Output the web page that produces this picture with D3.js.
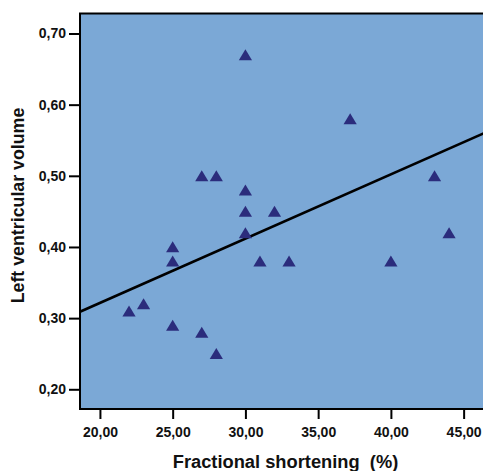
<!DOCTYPE html>
<html>
<head>
<meta charset="utf-8">
<script src="https://cdn.jsdelivr.net/npm/d3@7"></script>
<style>
  body { margin: 0; background: #fff; }
  text { font-family: "Liberation Sans", Arial, sans-serif; }
</style>
</head>
<body>
<script>
// fractional shortening (%) vs left ventricular volume
var shortening = [30, 37.2, 27, 28, 43, 30, 30, 32, 30, 44, 25, 25, 31, 33, 40, 22, 23, 25, 27, 28];
var volume     = [0.67, 0.58, 0.50, 0.50, 0.50, 0.48, 0.45, 0.45, 0.42, 0.42, 0.40, 0.38, 0.38, 0.38, 0.38, 0.31, 0.32, 0.29, 0.28, 0.25];
// fit line as read at the plot edges
var fitX = [18.63, 46.4];
var fitY = [0.309, 0.560];
var xTicks = [20, 25, 30, 35, 40, 45];
var yTicks = [0.20, 0.30, 0.40, 0.50, 0.60, 0.70];

var width = 483;
var height = 471;
var pLeft = 80, pTop = 13.5, pRight = 484, pBottom = 409;

var svg = d3.select("body").append("svg").attr("width", width).attr("height", height);

var xScale = d3.scaleLinear()
  .domain([18.63, 46.4])
  .range([pLeft, pRight]);

var yScale = d3.scaleLinear()
  .domain([0.1723, 0.7281])
  .range([pBottom, pTop]);

var loc = d3.formatLocale({decimal: ",", thousands: ".", grouping: [3], currency: ["", ""]});
var fmt = loc.format(".2f");

svg.append("defs").append("clipPath").attr("id", "clip")
  .append("rect")
  .attr("x", pLeft).attr("y", pTop)
  .attr("width", pRight - pLeft).attr("height", pBottom - pTop);

svg.append("rect")
  .attr("x", pLeft).attr("y", pTop)
  .attr("width", pRight - pLeft + 10).attr("height", pBottom - pTop)
  .attr("fill", "#7BA8D6")
  .attr("stroke", "#000")
  .attr("stroke-width", 2);

var axisx = d3.axisBottom(xScale).tickValues(xTicks).tickFormat(fmt).tickSize(10).tickPadding(8);
var axisy = d3.axisLeft(yScale).tickValues(yTicks).tickFormat(fmt).tickSize(11).tickPadding(3);

var gx = svg.append("g")
  .attr("transform", "translate(0," + pBottom + ")")
  .call(axisx);
var gy = svg.append("g")
  .attr("transform", "translate(" + pLeft + ",0)")
  .call(axisy);

[gx, gy].forEach(function(g) {
  g.select(".domain").remove();
  g.selectAll(".tick line").attr("stroke", "#000").attr("stroke-width", 2);
  g.selectAll(".tick text")
    .attr("fill", "#111")
    .style("font-family", "'Liberation Sans', Arial, sans-serif")
    .style("font-size", "14px")
    .style("font-weight", "bold");
});

var plot = svg.append("g").attr("clip-path", "url(#clip)");

plot.append("line")
  .attr("x1", xScale(fitX[0])).attr("y1", yScale(fitY[0]))
  .attr("x2", xScale(fitX[1])).attr("y2", yScale(fitY[1]))
  .attr("stroke", "#000")
  .attr("stroke-width", 2.6);

plot.selectAll("path.pt")
  .data(d3.range(shortening.length))
  .enter()
  .append("path")
  .attr("class", "pt")
  .attr("d", "M0,-5.6L6.6,5.4L-6.6,5.4Z")
  .attr("transform", function(i) {
    return "translate(" + xScale(shortening[i]) + "," + yScale(volume[i]) + ")";
  })
  .attr("fill", "#2B2C7C");

svg.append("text")
  .attr("x", 285.5)
  .attr("y", 468)
  .attr("text-anchor", "middle")
  .style("font-size", "18.3px")
  .style("font-weight", "bold")
  .style("white-space", "pre")
  .attr("fill", "#111")
  .text("Fractional shortening  (%)");

svg.append("text")
  .attr("transform", "translate(23.5,205.5) rotate(-90)")
  .attr("text-anchor", "middle")
  .style("font-size", "17.8px")
  .style("font-weight", "bold")
  .attr("fill", "#111")
  .text("Left ventricular volume");
</script>
</body>
</html>
